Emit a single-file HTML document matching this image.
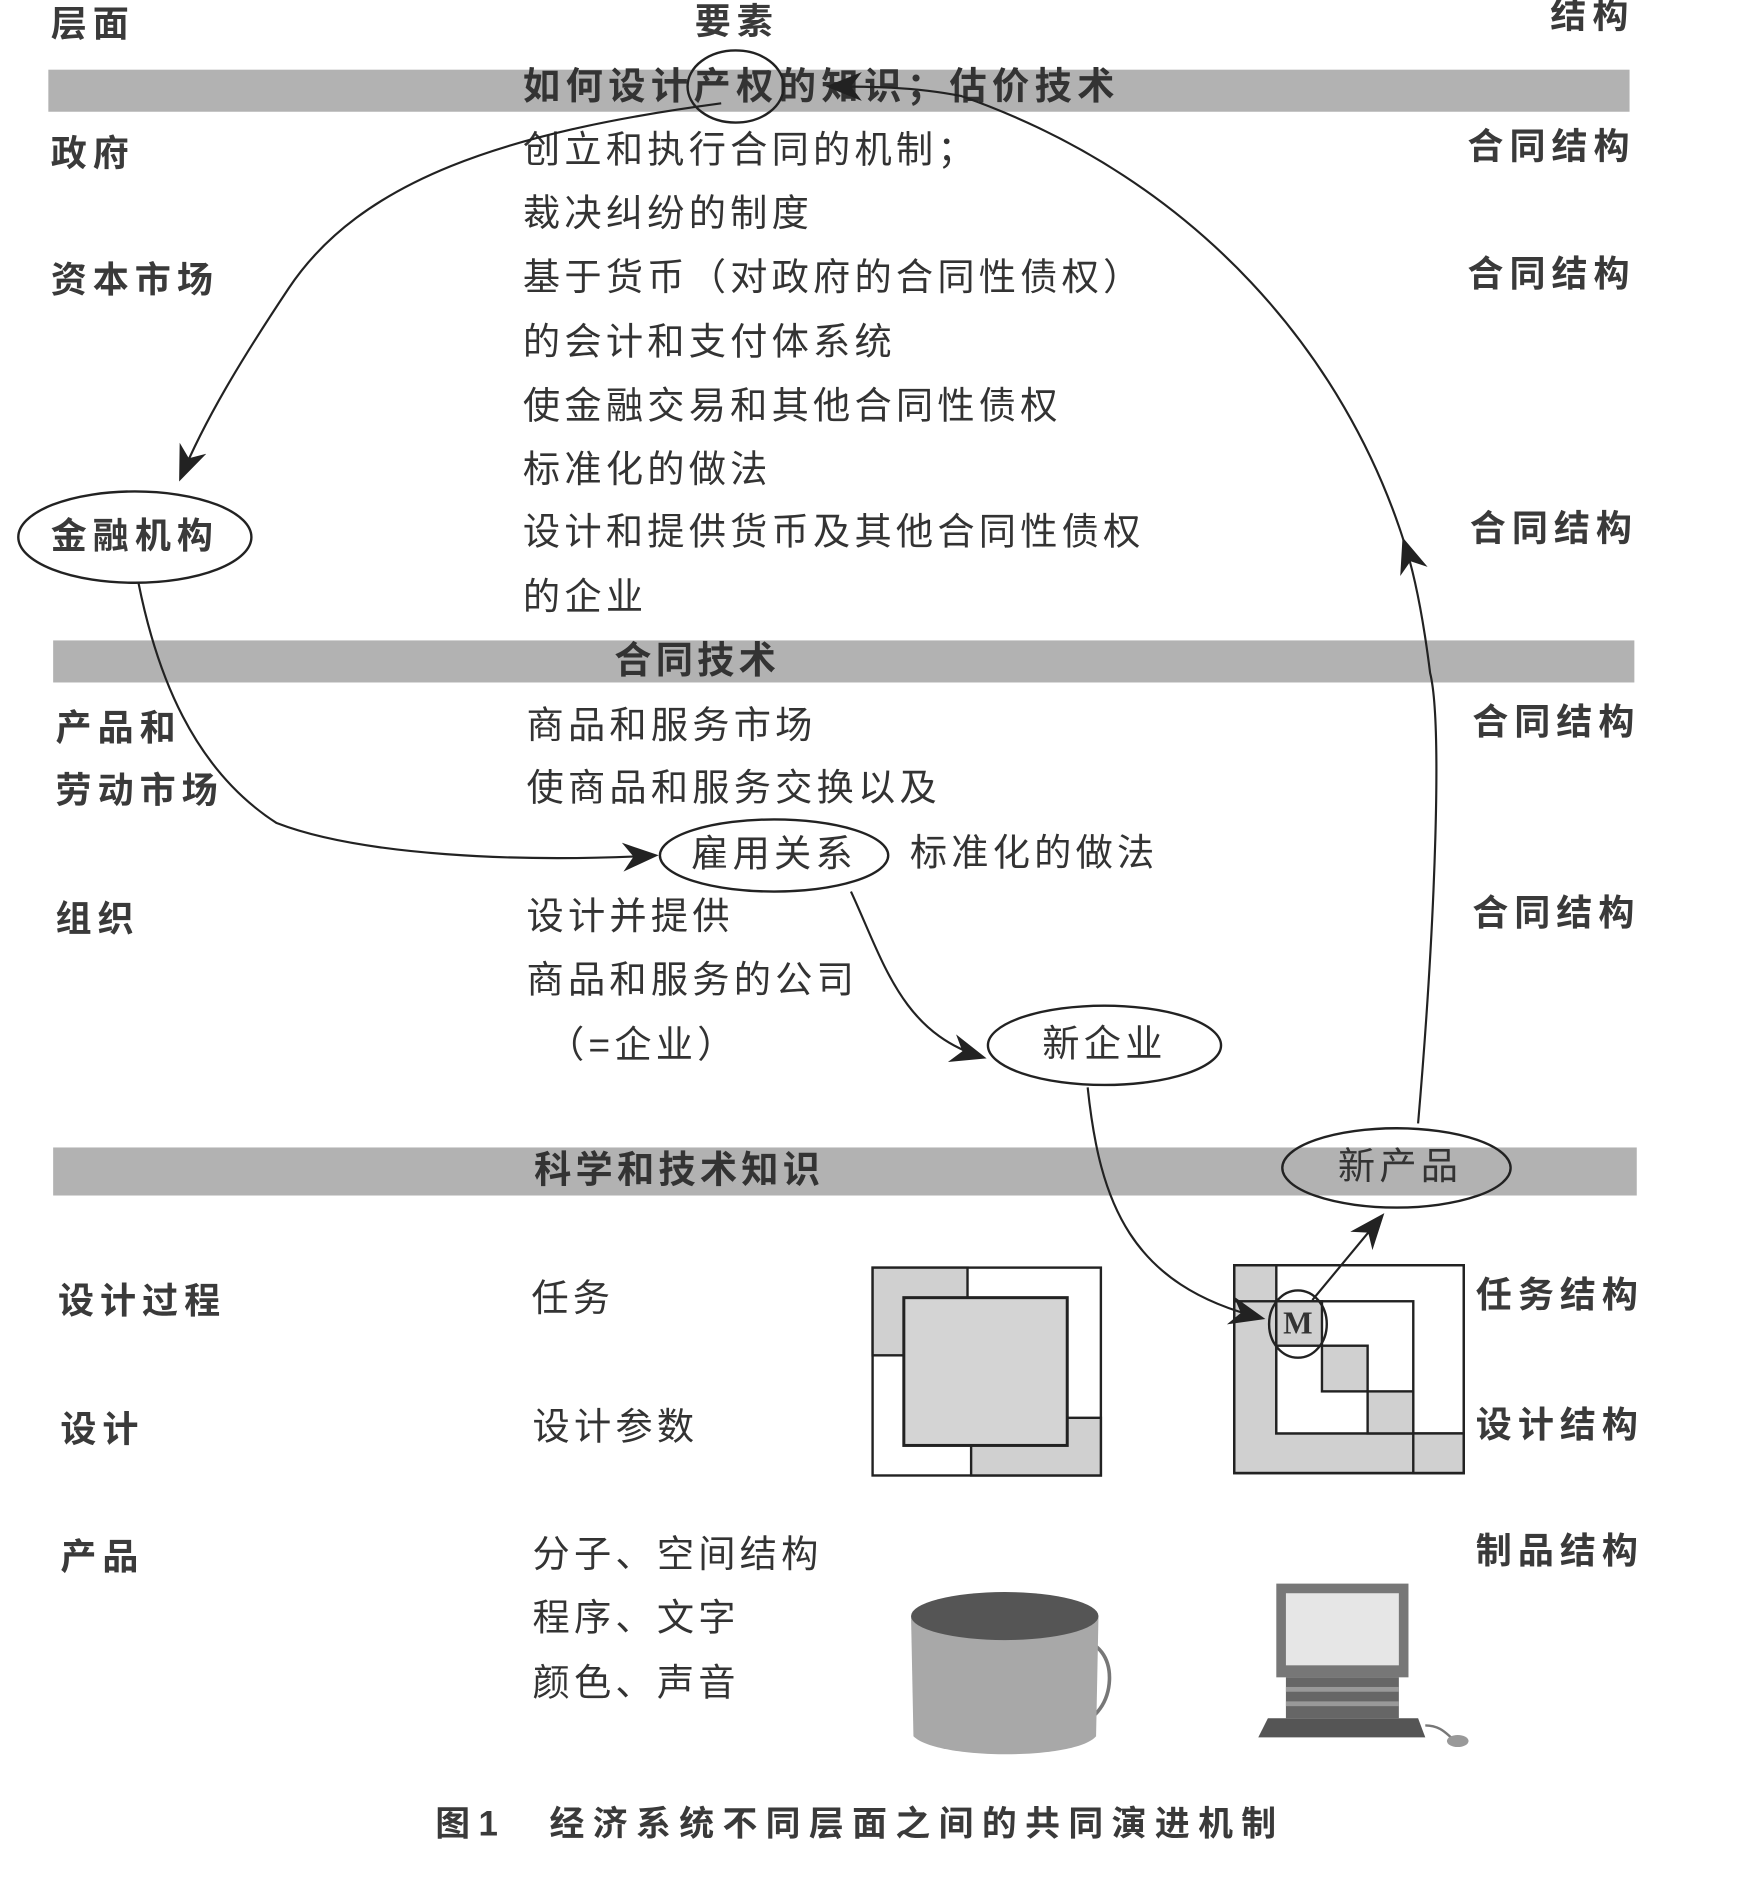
<!DOCTYPE html>
<html><head><meta charset="utf-8"><style>
html,body{margin:0;padding:0;background:#fff}
svg{display:block}
text{font-family:"Liberation Sans","Noto Sans CJK SC",sans-serif;fill:#333;dominant-baseline:middle}
.b{font-weight:bold}
.m{font-size:31px;letter-spacing:3.5px}
.l{font-size:30px;font-weight:bold;fill:#3a3a3a;letter-spacing:5px}
</style></head><body>
<svg width="1762" height="1884" viewBox="0 0 1466 1568" xmlns="http://www.w3.org/2000/svg">
<defs>
<marker id="ah" viewBox="0 0 20 20" refX="18" refY="10" markerWidth="30" markerHeight="30" markerUnits="userSpaceOnUse" orient="auto">
<path d="M0,2 L20,10 L0,18 L6,10 Z" fill="#222"/></marker>
</defs>
<!-- bands -->
<rect x="40" y="58" width="1316" height="35" fill="#b2b2b2"/>
<rect x="44" y="533" width="1316" height="35" fill="#b2b2b2"/>
<rect x="44" y="955" width="1318" height="40" fill="#b2b2b2"/>
<!-- headers -->
<text x="42" y="22" class="l">层面</text>
<text x="578" y="20" class="l">要素</text>
<text x="1360" y="15" class="l" text-anchor="end">结构</text>
<text x="435" y="74" class="m b" style="letter-spacing:4.5px">如何设计产权的知识；估价技术</text>
<text x="580" y="552" class="m b" text-anchor="middle">合同技术</text>
<text x="565" y="976" class="m b" text-anchor="middle">科学和技术知识</text>
<!-- left -->
<text x="42" y="130" class="l">政府</text>
<text x="42" y="235" class="l">资本市场</text>
<text x="46" y="608" class="l">产品和</text>
<text x="46" y="660" class="l">劳动市场</text>
<text x="46" y="767" class="l">组织</text>
<text x="48" y="1085" class="l">设计过程</text>
<text x="50" y="1192" class="l">设计</text>
<text x="50" y="1298" class="l">产品</text>
<!-- middle -->
<text x="435" y="127" class="m">创立和执行合同的机制；</text>
<text x="435" y="180" class="m">裁决纠纷的制度</text>
<text x="435" y="233" class="m">基于货币（对政府的合同性债权）</text>
<text x="435" y="287" class="m">的会计和支付体系统</text>
<text x="435" y="340" class="m">使金融交易和其他合同性债权</text>
<text x="435" y="393" class="m">标准化的做法</text>
<text x="435" y="445" class="m">设计和提供货币及其他合同性债权</text>
<text x="435" y="499" class="m">的企业</text>
<text x="438" y="606" class="m">商品和服务市场</text>
<text x="438" y="658" class="m">使商品和服务交换以及</text>
<text x="757" y="712" class="m">标准化的做法</text>
<text x="438" y="765" class="m">设计并提供</text>
<text x="438" y="818" class="m">商品和服务的公司</text>
<text x="455" y="872" class="m">（=企业）</text>
<text x="442" y="1083" class="m">任务</text>
<text x="443" y="1190" class="m">设计参数</text>
<text x="443" y="1296" class="m">分子、空间结构</text>
<text x="443" y="1349" class="m">程序、文字</text>
<text x="443" y="1403" class="m">颜色、声音</text>
<!-- right -->
<text x="1361" y="124" class="l" text-anchor="end">合同结构</text>
<text x="1361" y="230" class="l" text-anchor="end">合同结构</text>
<text x="1363" y="442" class="l" text-anchor="end">合同结构</text>
<text x="1365" y="603" class="l" text-anchor="end">合同结构</text>
<text x="1365" y="762" class="l" text-anchor="end">合同结构</text>
<text x="1368" y="1080" class="l" text-anchor="end">任务结构</text>
<text x="1368" y="1188" class="l" text-anchor="end">设计结构</text>
<text x="1368" y="1293" class="l" text-anchor="end">制品结构</text>
<!-- matrix 1 -->
<g stroke="#222" stroke-width="2">
<rect x="726" y="1055" width="190" height="173" fill="#fff"/>
<rect x="726" y="1055" width="79" height="73" fill="#d0d0d0"/>
<rect x="808" y="1180" width="108" height="48" fill="#d0d0d0"/>
<rect x="752" y="1080" width="136" height="123" fill="#d4d4d4" stroke-width="2.5"/>
</g>
<!-- matrix 2 -->
<g stroke="#222" stroke-width="2">
<rect x="1027" y="1053" width="191" height="173" fill="#fff"/>
<path d="M1027,1053 H1062 V1193 H1218 V1226 H1027 Z" fill="#d0d0d0"/>
<rect x="1062" y="1083" width="114" height="110" fill="#fff"/>
<rect x="1027" y="1053" width="35" height="30" fill="#d0d0d0"/>
<rect x="1062" y="1083" width="38" height="37" fill="#d0d0d0"/>
<rect x="1100" y="1120" width="38" height="38" fill="#d0d0d0"/>
<rect x="1138" y="1158" width="38" height="35" fill="#d0d0d0"/>
<rect x="1176" y="1193" width="42" height="33" fill="#d0d0d0"/>
<rect x="1027" y="1053" width="191" height="173" fill="none"/>
<ellipse cx="1080" cy="1102" rx="24" ry="28" fill="none"/>
</g>
<text x="1080" y="1104" font-size="26" font-weight="bold" text-anchor="middle" style="font-family:'Liberation Serif',serif">M</text>
<!-- ellipses -->
<g fill="none" stroke="#222" stroke-width="2">
<ellipse cx="612" cy="72" rx="40" ry="30"/>
<ellipse cx="112" cy="447" rx="97" ry="38"/>
<ellipse cx="644" cy="712" rx="95" ry="30"/>
<ellipse cx="919" cy="870" rx="97" ry="33"/>
<ellipse cx="1162" cy="972" rx="95" ry="33"/>
</g>
<text x="112" y="448" class="l" text-anchor="middle">金融机构</text>
<text x="644" y="713" class="m" text-anchor="middle">雇用关系</text>
<text x="919" y="871" class="m" text-anchor="middle">新企业</text>
<text x="1165" y="973" class="m" text-anchor="middle">新产品</text>
<!-- arrows -->
<g fill="none" stroke="#222" stroke-width="1.8">
<path d="M1180,935 C1195,760 1200,600 1190,560 C1185,520 1178,480 1168,450" marker-end="url(#ah)"/>
<path d="M1168,450 C1120,300 1000,150 800,80 C760,72 720,72 690,72" marker-end="url(#ah)"/>
<path d="M600,86 C420,110 300,150 240,240 C200,300 170,350 150,398" marker-end="url(#ah)"/>
<path d="M115,485 C130,560 160,640 230,685 C300,712 430,718 545,712" marker-end="url(#ah)"/>
<path d="M708,742 C735,800 750,860 818,880" marker-end="url(#ah)"/>
<path d="M905,905 C915,1000 940,1070 1050,1097" marker-end="url(#ah)"/>
<path d="M1092,1082 L1150,1012" marker-end="url(#ah)"/>
</g>
<!-- mug -->
<path d="M895,1365 C935,1365 930,1430 895,1435" fill="none" stroke="#777" stroke-width="3"/>
<path d="M758,1345 L760,1445 C780,1465 895,1465 912,1445 L914,1345 Z" fill="#a8a8a8"/>
<ellipse cx="836" cy="1345" rx="78" ry="20" fill="#555"/>
<!-- computer -->
<rect x="1062" y="1318" width="110" height="78" fill="#777"/>
<rect x="1070" y="1326" width="94" height="60" fill="#e6e6e6"/>
<rect x="1070" y="1396" width="94" height="34" fill="#666"/>
<rect x="1070" y="1404" width="94" height="4" fill="#999"/>
<rect x="1070" y="1416" width="94" height="4" fill="#999"/>
<path d="M1055,1430 L1180,1430 L1186,1446 L1047,1446 Z" fill="#555"/>
<path d="M1186,1436 C1200,1436 1205,1445 1210,1448" stroke="#777" fill="none" stroke-width="2"/>
<ellipse cx="1213" cy="1449" rx="9" ry="5" fill="#999"/>
<!-- caption -->
<text x="362" y="1520" class="l" style="font-size:29px;letter-spacing:7px">图1　经济系统不同层面之间的共同演进机制</text>
</svg>
</body></html>
